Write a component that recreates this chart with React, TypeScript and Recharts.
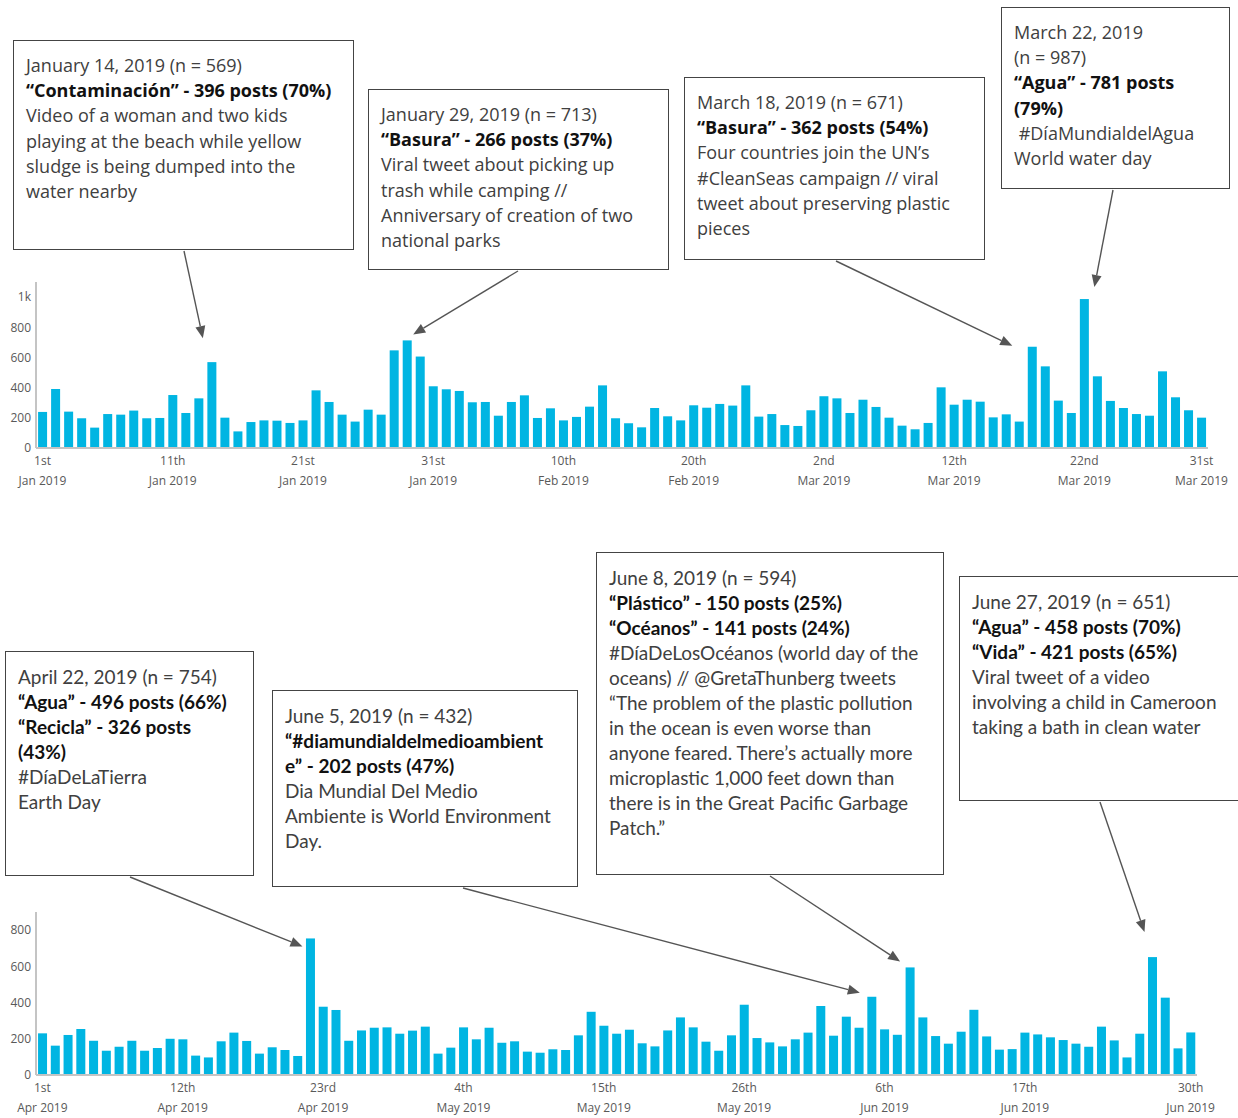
import React from 'react';
import { BarChart, Bar, XAxis, YAxis } from 'recharts';

// daily post counts
const JAN = [239, 391, 241, 197, 135, 225, 221, 248, 197, 199, 351, 232, 329, 569, 201, 110, 172, 183, 181, 166, 183, 382, 305, 221, 175, 254, 221, 647, 713, 606, 409];
const FEB = [389, 378, 303, 305, 214, 305, 349, 199, 263, 183, 206, 274, 415, 197, 164, 137, 265, 210, 183, 283, 267, 292, 281, 415, 208, 225, 152, 146];
const MAR = [250, 343, 329, 232, 320, 272, 201, 148, 124, 166, 402, 287, 320, 307, 203, 223, 175, 671, 541, 314, 232, 987, 475, 312, 265, 225, 214, 508, 336, 250, 201];
const APR = [230, 162, 221, 254, 189, 134, 156, 189, 134, 149, 200, 197, 107, 97, 186, 234, 188, 118, 153, 138, 105, 754, 377, 359, 189, 246, 261, 263, 228, 245];
const MAY = [267, 118, 151, 263, 197, 261, 178, 186, 129, 123, 142, 138, 219, 349, 272, 228, 250, 175, 158, 246, 318, 263, 184, 134, 219, 388, 204, 180, 158, 197, 234];
const JUN = [381, 217, 322, 261, 432, 252, 222, 594, 318, 215, 173, 239, 360, 213, 140, 143, 234, 224, 208, 193, 173, 156, 267, 191, 97, 228, 651, 427, 147, 235];

const MONTHS = ['Jan', 'Feb', 'Mar', 'Apr', 'May', 'Jun'];

const TOP_TICKS = ['2019-01-01', '2019-01-11', '2019-01-21', '2019-01-31', '2019-02-10', '2019-02-20', '2019-03-02', '2019-03-12', '2019-03-22', '2019-03-31'];
const BOTTOM_TICKS = ['2019-04-01', '2019-04-12', '2019-04-23', '2019-05-04', '2019-05-15', '2019-05-26', '2019-06-06', '2019-06-17', '2019-06-30'];

const TOP_Y = [0, 200, 400, 600, 800, 1000];
const BOTTOM_Y = [0, 200, 400, 600, 800];

const BAR = '#00b5e2';
const AXIS = '#c4c4c4';
const TICK = '#595959';

const pad = (n: number) => (n < 10 ? '0' + n : '' + n);

function toRows(month: number, values: number[]) {
  return values.map((v, i) => ({ date: `2019-${pad(month)}-${pad(i + 1)}`, posts: v }));
}

const topData = [...toRows(1, JAN), ...toRows(2, FEB), ...toRows(3, MAR)];
const bottomData = [...toRows(4, APR), ...toRows(5, MAY), ...toRows(6, JUN)];

function ordinal(d: number) {
  if (d % 10 === 1 && d !== 11) return d + 'st';
  if (d % 10 === 2 && d !== 12) return d + 'nd';
  if (d % 10 === 3 && d !== 13) return d + 'rd';
  return d + 'th';
}

type Line = { t: string; b?: boolean };
type Note = {
  date: string;
  box: { left: number; top: number; width: number; height: number };
  tail: [number, number]; // page coords where the arrow leaves the box
  tip: [number, number]; // offset of arrow tip from the bar's top centre
  lines: Line[];
};

const TOP_NOTES: Note[] = [
  {
    date: '2019-01-14',
    box: { left: 13, top: 40, width: 341, height: 210 },
    tail: [184, 251],
    tip: [-9, -24],
    lines: [
      { t: 'January 14, 2019 (n = 569)' },
      { t: '“Contaminación” - 396 posts (70%)', b: true },
      { t: 'Video of a woman and two kids' },
      { t: 'playing at the beach while yellow' },
      { t: 'sludge is being dumped into the' },
      { t: 'water nearby' },
    ],
  },
  {
    date: '2019-01-29',
    box: { left: 368, top: 89, width: 301, height: 181 },
    tail: [518, 271],
    tip: [6, -6],
    lines: [
      { t: 'January 29, 2019 (n = 713)' },
      { t: '“Basura” - 266 posts (37%)', b: true },
      { t: 'Viral tweet about picking up' },
      { t: 'trash while camping //' },
      { t: 'Anniversary of creation of two' },
      { t: 'national parks' },
    ],
  },
  {
    date: '2019-03-18',
    box: { left: 684, top: 77, width: 301, height: 183 },
    tail: [836, 261],
    tip: [-20, -1],
    lines: [
      { t: 'March 18, 2019 (n = 671)' },
      { t: '“Basura” - 362 posts (54%)', b: true },
      { t: 'Four countries join the UN’s' },
      { t: '#CleanSeas campaign // viral' },
      { t: 'tweet about preserving plastic' },
      { t: 'pieces' },
    ],
  },
  {
    date: '2019-03-22',
    box: { left: 1001, top: 7, width: 229, height: 182 },
    tail: [1113, 190],
    tip: [10, -12],
    lines: [
      { t: 'March 22, 2019' },
      { t: '(n = 987)' },
      { t: '“Agua” - 781 posts', b: true },
      { t: '(79%)', b: true },
      { t: '\u00a0#DíaMundialdelAgua' },
      { t: 'World water day' },
    ],
  },
];

const BOTTOM_NOTES: Note[] = [
  {
    date: '2019-04-22',
    box: { left: 5, top: 651, width: 249, height: 225 },
    tail: [130, 877],
    tip: [-8, 8],
    lines: [
      { t: 'April 22, 2019 (n = 754)' },
      { t: '“Agua” - 496 posts (66%)', b: true },
      { t: '“Recicla” - 326 posts', b: true },
      { t: '(43%)', b: true },
      { t: '#DíaDeLaTierra' },
      { t: 'Earth Day' },
    ],
  },
  {
    date: '2019-06-05',
    box: { left: 272, top: 690, width: 306, height: 197 },
    tail: [463, 888],
    tip: [-12, -4],
    lines: [
      { t: 'June 5, 2019 (n = 432)' },
      { t: '“#diamundialdelmedioambient', b: true },
      { t: 'e” - 202 posts (47%)', b: true },
      { t: 'Dia Mundial Del Medio' },
      { t: 'Ambiente is World Environment' },
      { t: 'Day.' },
    ],
  },
  {
    date: '2019-06-08',
    box: { left: 596, top: 552, width: 348, height: 323 },
    tail: [770, 876],
    tip: [-10, -6],
    lines: [
      { t: 'June 8, 2019 (n = 594)' },
      { t: '“Plástico” - 150 posts (25%)', b: true },
      { t: '“Océanos” - 141 posts (24%)', b: true },
      { t: '#DíaDeLosOcéanos (world day of the' },
      { t: 'oceans) // @GretaThunberg tweets' },
      { t: '“The problem of the plastic pollution' },
      { t: 'in the ocean is even worse than' },
      { t: 'anyone feared. There’s actually more' },
      { t: 'microplastic 1,000 feet down than' },
      { t: 'there is in the Great Pacific Garbage' },
      { t: 'Patch.”' },
    ],
  },
  {
    date: '2019-06-27',
    box: { left: 959, top: 576, width: 284, height: 225 },
    tail: [1100, 802],
    tip: [-8, -25],
    lines: [
      { t: 'June 27, 2019 (n = 651)' },
      { t: '“Agua” - 458 posts (70%)', b: true },
      { t: '“Vida” - 421 posts (65%)', b: true },
      { t: 'Viral tweet of a video' },
      { t: 'involving a child in Cameroon' },
      { t: 'taking a bath in clean water' },
    ],
  },
];

function Arrow({ x1, y1, x2, y2 }: { x1: number; y1: number; x2: number; y2: number }) {
  const a = Math.atan2(y2 - y1, x2 - x1);
  const len = 12;
  const half = 5;
  const bx = x2 - len * Math.cos(a);
  const by = y2 - len * Math.sin(a);
  const px = -Math.sin(a) * half;
  const py = Math.cos(a) * half;
  return (
    <g>
      <line x1={x1} y1={y1} x2={bx} y2={by} stroke="#555" strokeWidth={1.4} />
      <polygon points={`${x2},${y2} ${bx + px},${by + py} ${bx - px},${by - py}`} fill="#555" />
    </g>
  );
}

// bar shape that also draws the callout arrow for annotated days
const barWithArrow = (notes: Note[], offsetY: number) => (props: any) => {
  const { x, y, width, height, payload } = props;
  const note = notes.find(n => n.date === payload.date);
  return (
    <g>
      <rect x={x} y={y} width={width} height={height} fill={BAR} />
      {note && (
        <Arrow
          x1={note.tail[0]}
          y1={note.tail[1] - offsetY}
          x2={x + width / 2 + note.tip[0]}
          y2={y + note.tip[1]}
        />
      )}
    </g>
  );
};

function DateTick(props: any) {
  const { x, y, payload } = props;
  const [, m, d] = String(payload.value).split('-').map(Number);
  return (
    <text x={x} y={y} textAnchor="middle" fontSize={12} fill={TICK} fontFamily="Open Sans">
      <tspan x={x} dy={17}>{ordinal(d)}</tspan>
      <tspan x={x} dy={20}>{MONTHS[m - 1]} 2019</tspan>
    </text>
  );
}

function NoteBox({ note, fontFamily, fontSize, lineHeight }: { note: Note; fontFamily: string; fontSize: number; lineHeight: number }) {
  const { left, top, width, height } = note.box;
  return (
    <div
      style={{
        position: 'absolute',
        left,
        top,
        width,
        height,
        boxSizing: 'border-box',
        border: '1.5px solid #444',
        background: '#fff',
        padding: '12px 0 0 12px',
        fontFamily,
        fontSize,
        lineHeight: lineHeight + 'px',
        color: '#404040',
        whiteSpace: 'nowrap',
        overflow: 'hidden',
      }}
    >
      {note.lines.map((l, i) => (
        <div key={i} style={l.b ? { fontWeight: 700, color: '#111' } : undefined}>
          {l.t}
        </div>
      ))}
    </div>
  );
}

const tickStyle = { fontSize: 12, fill: TICK, fontFamily: 'Open Sans' };

export default function App() {
  return (
    <div style={{ position: 'absolute', left: 0, top: 0, width: 1238, height: 1118, background: '#fff', overflow: 'hidden' }}>
      <div style={{ position: 'absolute', left: 0, top: 0 }}>
        <BarChart width={1238} height={500} data={topData} margin={{ top: 282, right: 30, bottom: 0, left: 0 }} barCategoryGap="16%">
          <XAxis
            dataKey="date"
            ticks={TOP_TICKS}
            interval={0}
            tick={<DateTick />}
            tickLine={false}
            tickSize={0}
            tickMargin={0}
            height={52}
            axisLine={{ stroke: AXIS, strokeWidth: 2 }}
          />
          <YAxis
            width={36}
            domain={[0, 1100]}
            ticks={TOP_Y}
            tickFormatter={(v: number) => (v === 1000 ? '1k' : String(v))}
            tick={tickStyle}
            tickLine={false}
            tickSize={0}
            tickMargin={5}
            axisLine={{ stroke: AXIS, strokeWidth: 2 }}
          />
          <Bar dataKey="posts" fill={BAR} isAnimationActive={false} shape={barWithArrow(TOP_NOTES, 0)} />
        </BarChart>
      </div>
      <div style={{ position: 'absolute', left: 0, top: 500 }}>
        <BarChart width={1238} height={618} data={bottomData} margin={{ top: 412, right: 41, bottom: 0, left: 0 }} barCategoryGap="16%">
          <XAxis
            dataKey="date"
            ticks={BOTTOM_TICKS}
            interval={0}
            tick={<DateTick />}
            tickLine={false}
            tickSize={0}
            tickMargin={0}
            height={43}
            axisLine={{ stroke: AXIS, strokeWidth: 2 }}
          />
          <YAxis
            width={36}
            domain={[0, 900]}
            ticks={BOTTOM_Y}
            tick={tickStyle}
            tickLine={false}
            tickSize={0}
            tickMargin={5}
            axisLine={{ stroke: AXIS, strokeWidth: 2 }}
          />
          <Bar dataKey="posts" fill={BAR} isAnimationActive={false} shape={barWithArrow(BOTTOM_NOTES, 500)} />
        </BarChart>
      </div>
      {TOP_NOTES.map(n => (
        <NoteBox key={n.date} note={n} fontFamily="Open Sans" fontSize={18} lineHeight={25.2} />
      ))}
      {BOTTOM_NOTES.map(n => (
        <NoteBox key={n.date} note={n} fontFamily="Lato" fontSize={19} lineHeight={25} />
      ))}
    </div>
  );
}
